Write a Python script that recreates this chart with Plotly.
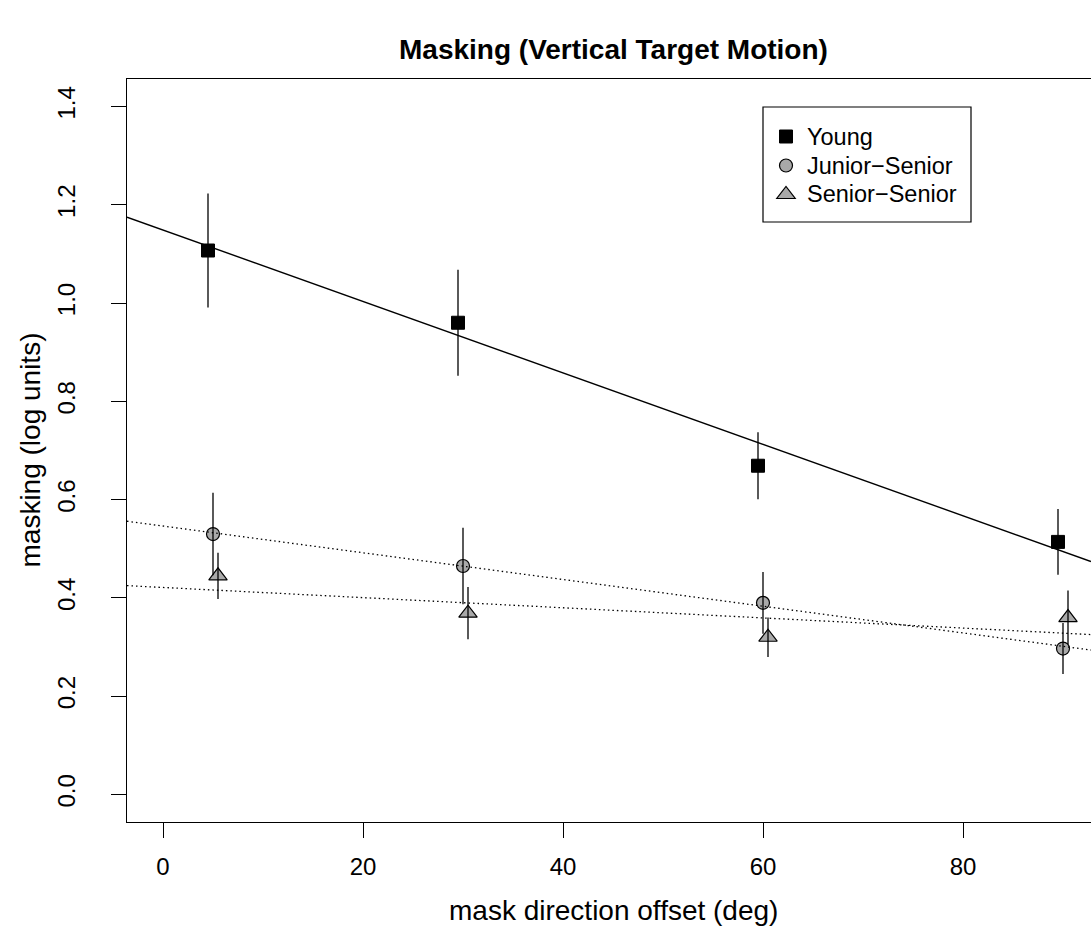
import numpy as np
import plotly.graph_objects as go

# ---- data ----
mask_offset = [5, 30, 60, 90]            # nominal mask direction offsets (deg), used for the fits
young_x = [4.5, 29.5, 59.5, 89.5]
young_y = [1.107, 0.960, 0.669, 0.514]
young_err = [0.116, 0.108, 0.068, 0.067]

junior_x = [5.0, 30.0, 60.0, 90.0]
junior_y = [0.530, 0.465, 0.390, 0.297]
junior_err = [0.084, 0.078, 0.063, 0.052]

senior_x = [5.5, 30.5, 60.5, 90.5]
senior_y = [0.445, 0.369, 0.320, 0.360]
senior_err = [0.047, 0.053, 0.040, 0.055]

group_names = ["Young", "Junior\u2212Senior", "Senior\u2212Senior"]
x_ticks = [0, 20, 40, 60, 80]
y_ticks = [0.0, 0.2, 0.4, 0.6, 0.8, 1.0, 1.2, 1.4]

title_text = "Masking (Vertical Target Motion)"
x_title = "mask direction offset (deg)"
y_title = "masking (log units)"

# ---- styling ----
FONT = "Liberation Sans, Arial, Helvetica, sans-serif"
GREY = "#a9a9a9"
X_RANGE = [-3.6, 92.8]
Y_RANGE = [-0.056, 1.456]
L, R_, T, B = 127, 0, 79, 118
W, H = 1091, 940
PW, PH = W - L - R_, H - T - B
LEGEND_ROWS_PX = [136.7, 165.7, 194.3]
LEGEND_TEXT_X_PX = 805

def px_to_paper_x(px):
    return (px - L) / PW

def px_to_paper_y(py):
    return (H - B - py) / PH

fig = go.Figure()

groups = [
    (young_x, young_y, young_err, dict(symbol="square", size=13, color="black",
                                       line=dict(color="black", width=1))),
    (junior_x, junior_y, junior_err, dict(symbol="circle", size=13, color=GREY,
                                          line=dict(color="black", width=1.2))),
    (senior_x, senior_y, senior_err, dict(symbol="triangle-up", size=16, color=GREY,
                                          line=dict(color="black", width=1.2))),
]

# markers (legend symbols; legend text is drawn as annotations below)
for (gx, gy, ge, mk), name in zip(groups, group_names):
    fig.add_trace(go.Scatter(x=gx, y=gy, mode="markers", name=" ", marker=mk,
                             hovertext=[name] * len(gx), hoverinfo="x+y+text",
                             showlegend=True, cliponaxis=False))

# error bars drawn on top of the markers
for (gx, gy, ge, mk), name in zip(groups, group_names):
    fig.add_trace(go.Scatter(x=gx, y=gy, mode="markers", marker=dict(size=1, opacity=0),
                             error_y=dict(type="data", array=ge, symmetric=True, width=0,
                                          thickness=1.3, color="black"),
                             showlegend=False, hoverinfo="skip"))

# least-squares fit lines across the plot
line_x = np.array(X_RANGE)
fit_styles = [dict(color="black", width=1.4),
              dict(color="black", width=1.3, dash="1.5px,3px"),
              dict(color="black", width=1.3, dash="1.5px,3px")]
for (gx, gy, ge, mk), st in zip(groups, fit_styles):
    slope, intercept = np.polyfit(mask_offset, gy, 1)
    fig.add_trace(go.Scatter(x=line_x, y=intercept + slope * line_x, mode="lines",
                             line=st, showlegend=False, hoverinfo="skip"))

axis_common = dict(showgrid=False, zeroline=False, showline=True, linecolor="black",
                   linewidth=1.3, ticks="outside", ticklen=15, tickwidth=1.3,
                   tickcolor="black", tickfont=dict(family=FONT, size=24, color="black"))

fig.update_xaxes(range=X_RANGE, tickvals=x_ticks, ticktext=[str(v) for v in x_ticks],
                 mirror=True, ticklabelstandoff=8, **axis_common)
fig.update_yaxes(range=Y_RANGE, tickvals=y_ticks, ticktext=[f"{v:.1f}" for v in y_ticks],
                 mirror=False, tickangle=-90, ticklabelstandoff=26, **axis_common)

# legend box (drawn as a shape)
fig.add_shape(type="rect", xref="paper", yref="paper",
              x0=px_to_paper_x(763), x1=px_to_paper_x(971),
              y0=px_to_paper_y(222), y1=px_to_paper_y(107),
              line=dict(color="black", width=1.2), fillcolor="rgba(0,0,0,0)")

annotations = [
    dict(text=f"<b>{title_text}</b>", x=px_to_paper_x(613), y=px_to_paper_y(50),
         xanchor="center", font=dict(family=FONT, size=28, color="black")),
    dict(text=x_title, x=px_to_paper_x(613), y=px_to_paper_y(910),
         xanchor="center", font=dict(family=FONT, size=28, color="black")),
    dict(text=y_title, x=px_to_paper_x(30), y=0.5, textangle=-90,
         xanchor="center", font=dict(family=FONT, size=28, color="black")),
]
for name, row in zip(group_names, LEGEND_ROWS_PX):
    annotations.append(dict(text=name, x=px_to_paper_x(LEGEND_TEXT_X_PX),
                            y=px_to_paper_y(row), xanchor="left",
                            font=dict(family=FONT, size=23.5, color="black")))
for a in annotations:
    fig.add_annotation(xref="paper", yref="paper", showarrow=False,
                       yanchor="middle", **a)

fig.update_layout(
    width=W, height=H,
    margin=dict(l=L, r=R_, t=T, b=B, pad=0),
    plot_bgcolor="white", paper_bgcolor="white",
    showlegend=True,
    legend=dict(x=px_to_paper_x(766), y=px_to_paper_y(117), xanchor="left", yanchor="top",
                bgcolor="rgba(0,0,0,0)", borderwidth=0,
                font=dict(family=FONT, size=20, color="black"),
                tracegroupgap=0, itemsizing="trace"),
    font=dict(family=FONT, color="black"),
)

fig.write_html("out.html")
